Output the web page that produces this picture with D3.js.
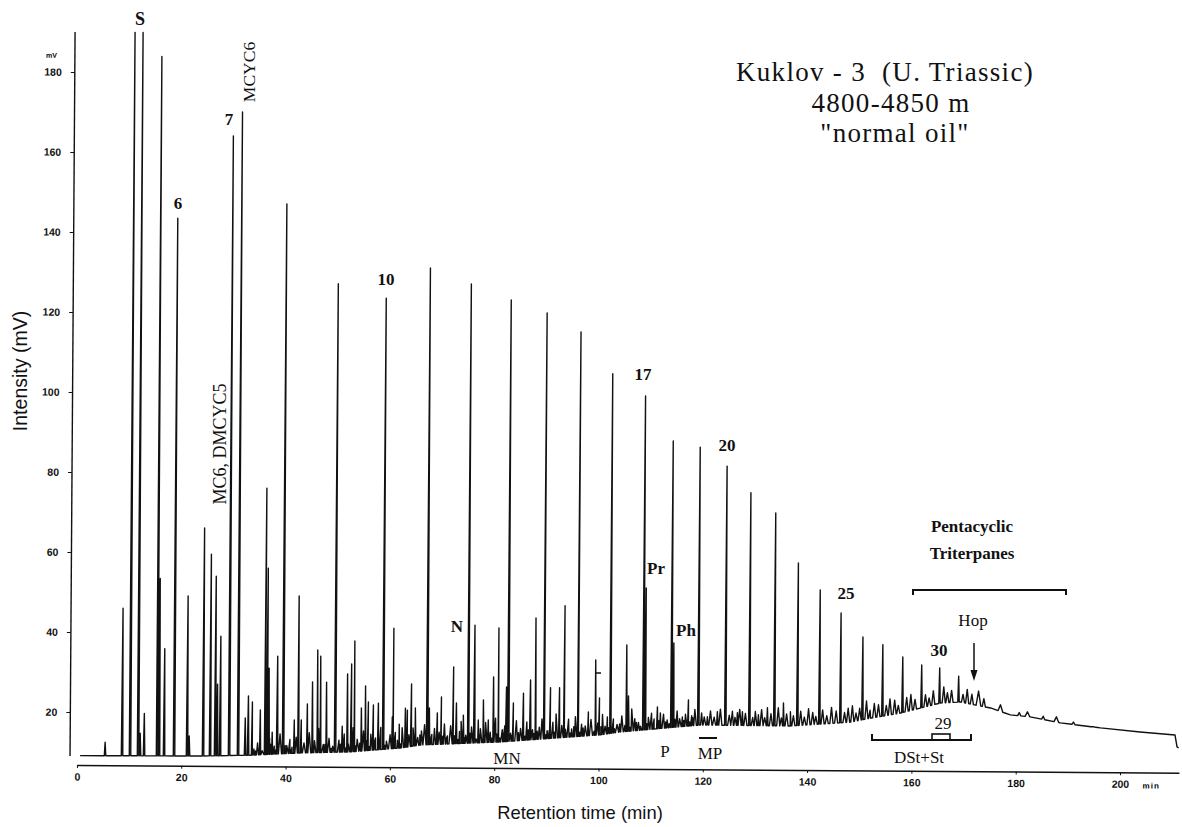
<!DOCTYPE html>
<html><head><meta charset="utf-8">
<script src="https://cdn.jsdelivr.net/npm/d3@7"></script>
<style>body{margin:0;background:#fff}svg{display:block}</style>
</head><body>
<script>
// ---- data (retention time in min, intensity in mV) ----
const xTicks = [0,20,40,60,80,100,120,140,160,180,200];
const yTicks = [20,40,60,80,100,120,140,160,180];

// baseline (hump) of the chromatogram
const baseT = [0.58,23.6,33.2,42.8,52.3,61.9,65.8,81.1,100.3,104.1,119.5,136.7,148.2,152.1,157.8,161.6,165.5,169.3,172.2,175.1,178.9,182.7,188.5,196.2,203.8,210.5,210.9,211.2];
const baseV = [9.1,9.2,9.5,10.15,10.5,11.55,12.35,13.25,15.2,15.95,17.85,17.75,18.8,19.85,21.15,22.45,23.75,24.05,23.3,22.6,20.9,20.45,19.0,17.8,16.85,16.15,13.2,12.9];

// resolved peaks (apex intensity)
const peakT = [5.37,8.63,10.16,11.70,12.08,12.85,15.34,15.72,16.68,18.60,21.09,21.48,24.16,25.50,26.46,26.85,27.42,29.15,30.87,
  32.21,32.79,33.56,35.09,36.05,36.43,36.72,37.39,38.35,39.50,41.61,42.38,42.95,44.10,45.06,46.02,46.60,47.75,49.47,
  50.81,51.77,52.54,53.12,54.46,55.23,55.80,56.76,57.72,58.68,60.40,60.59,61.74,62.90,63.28,64.05,64.81,67.11,67.50,
  69.03,69.80,72.10,72.68,74.02,74.98,76.13,76.89,77.85,78.81,79.77,80.73,82.26,82.65,83.60,85.52,86.86,87.82,89.55,
  90.70,92.43,93.38,96.07,97.99,99.33,100.10,101.63,102.21,105.27,105.66,108.53,108.92,111.22,111.79,113.90,114.29,
  116.01,117.16,119.08,120.81,122.72,124.26,126.56,127.52,128.86,130.59,132.31,133.65,135.38,136.72,138.06,142.28,
  146.31,150.53,154.36,158.20,161.84,165.29,168.94,172.77,176.99,182.17,187.73,194.82];
const peakV = [12.5,46,200,200,14.8,19.75,184,53.5,36,143.6,49.2,14.2,66.2,59.7,54.2,27.2,39.2,164.3,170.3,
  18.8,24.3,22.8,20.8,76.3,56.3,31.3,15.3,34.3,147.4,18.4,49.4,18.4,22.4,27.9,35.9,34.4,27.9,127.5,
  16.9,30,32.5,38.25,21.5,27,23,22.25,22.75,124,19.3,41.5,17.5,21.5,21,27.6,21.6,131.6,21.6,
  20.4,24.4,31.9,22.9,19.9,127.7,42.4,18.7,23.7,18.7,29.5,41.75,27,123.75,23,25.5,28.8,44.3,120.6,
  26.9,26.9,47.4,115.9,20.9,33.9,24.4,19.7,105.5,37.7,25,100,52,22.25,20.8,88.8,38.3,
  19.8,24.1,87.3,19.9,21.2,82.6,21,21.2,76,20.5,22.3,71,23.5,21.3,58.5,51.8,
  46.1,40.1,38.2,35.2,33.2,32.5,30.5,26.8,23.4,21.7,20.5,18.1];

// small unresolved bumps (height above baseline)
const noiseT = [33.9,34.6,35.5,36.9,37.8,38.9,40.2,40.8,41.2,42.0,43.5,44.5,45.5,46.3,47.2,48.3,49.0,50.2,51.2,52.0,52.9,53.7,54.9,55.5,56.3,57.2,58.2,59.3,60.0,61.0,61.4,62.3,63.6,64.4,65.3,66.0,66.6,68.0,68.5,69.4,70.4,71.0,71.6,73.3,73.6,74.5,75.6,77.3,78.3,79.2,80.2,81.5,82.0,83.1,84.2,85.0,86.2,87.3,88.6,89.1,90.1,91.2,91.8,92.9,94.2,94.8,95.5,96.7,97.4,98.5,99.8,100.7,101.2,102.8,103.5,104.4,106.3,106.9,107.6,109.5,110.1,110.6,112.4,113.1,115.0,115.5,116.6,117.8,118.4,119.7,120.2,121.4,122.1,123.3,125.0,125.6,126.1,127.0,128.1,129.5,130.0,131.2,131.8,133.0,134.4,135.0,136.0,137.3,138.7,139.4,140.2,141.0,141.6,142.9,143.7,144.6,145.5,147.1,147.8,148.6,149.3,150.0,151.3,152.0,152.8,153.6,155.1,155.8,156.7,157.4,159.0,159.8,160.6,162.6,163.3,164.1,166.1,166.8,167.6,169.8,170.6,171.5,173.8,180.6,185.2,191.0];
const noiseV = [1.5,3,1,4,2,5,2,3.5,1.5,4,2.5,5,3,6,2,3.5,1.5,3,4.5,2,6,3,5,2.5,4,3,5.5,2,3.5,4,2,5,3,4.5,2,3.5,5,2.5,4,3,5,2,4.5,3,5.5,2,4,3.5,5,2.5,6,3,4,2,5,3,4.5,2.5,3,5,2,4,6,3,4.5,2,5,3,2.5,4,3,5,2,3.5,2,4,5.5,3,2,3,4,2.5,3.5,2,4,2,3,2.5,4,3,2,3.5,2,4,2.5,3.5,2,4,3,2,3.5,4,2,3,4.5,2,3,2.5,3.5,2,4,3,2,3.5,2,4,3,2.5,3.5,4,2,3,4.5,2,3.5,3,2.5,4,3.5,2,3.5,4,2.5,3,2,3.5,4,2.5,3,2,3.5,2.5,2,0.8,0.8,0.6];

// finer wiggles of the noisy band
const fineT = [34.2,35.0,36.3,37.1,38.0,39.9,41.0,43.0,44.0,45.2,47.5,48.7,50.5,51.5,53.3,54.2,56.0,57.0,58.0,59.0,60.8,62.0,63.0,64.6,65.7,67.8,68.9,70.0,70.8,72.3,73.0,74.2,75.3,76.5,77.0,78.0,79.5,80.5,81.0,81.8,83.4,84.6,85.8,86.5,87.6,88.2,89.8,90.5,91.5,92.5,93.6,94.5,95.2,96.3,97.0,98.0,99.1,100.4,101.9,103.0,104.0,105.0,106.0,107.2,108.0,109.2,110.4,111.5,112.8,113.5,114.6,116.3,117.4,118.0];
const fineV = [1,2,1.5,2.5,1,2,1,2,1,1.5,2,1,2,1,1.5,2,1,2,1.5,1,2,1,2,1.5,2.5,1.5,1,2,1.5,2,1,1.5,2.5,1,2,1.5,1,2,1,2,1.5,2,1,2.5,1.5,2,1,2,1.5,1,2,1,2.5,1,2,1.5,1,2,1.5,1,2,1.5,1,2,1,1.5,1,2,1.5,1,2,1.5,1,2];

// ---- drawing ----
const W = 1182, H = 827;
const serif = "'Liberation Serif','Times New Roman',serif";
const sans = "'Liberation Sans',Arial,sans-serif";
const svg = d3.select("body").append("svg").attr("width", W).attr("height", H);
svg.append("rect").attr("width", W).attr("height", H).attr("fill", "#fff");

// the scanned figure is turned slightly; reproduce that tilt on the plot
const plot = svg.append("g").attr("transform", "rotate(0.4,80,760)");

const x = d3.scaleLinear().domain([0, 211.3]).range([77, 1179]);
const y = d3.scaleLinear().domain([0, 190]).range([792, 32]).clamp(true);
const base = d3.scaleLinear().domain(baseT).range(baseV).clamp(true);

let pts = baseT.map((t, i) => [t, baseV[i]]);
peakT.forEach((t, i) => {
  const w = t > 170 ? 0.45 : 0.14;
  pts.push([t - w, base(t - w)], [t, peakV[i]], [t + w, base(t + w)]);
});
const bump = (T, V, w) => T.forEach((t, i) => {
  pts.push([t - w, base(t - w)], [t, base(t) + V[i]], [t + w, base(t + w)]);
});
bump(noiseT, noiseV, 0.3);
bump(fineT, fineV, 0.2);
pts.sort((a, b) => a[0] - b[0]);

plot.append("path").datum(pts)
  .attr("d", d3.line().x(d => x(d[0])).y(d => y(d[1])))
  .attr("fill", "none").attr("stroke", "#111").attr("stroke-width", 1.4)
  .attr("stroke-linejoin", "round");

// x axis
const xa = plot.append("g").attr("transform", "translate(0,765)")
  .call(d3.axisBottom(x).tickValues(xTicks).tickSize(3).tickSizeOuter(0).tickPadding(5));
xa.select(".domain").attr("stroke", "#111").attr("stroke-width", 1.6);
xa.selectAll(".tick line").attr("stroke", "#111");
xa.selectAll("text").attr("font-family", sans).attr("font-weight", "bold").attr("font-size", 10.5).attr("fill", "#111");
plot.append("text").attr("x", x(206)).attr("y", 781).attr("text-anchor", "middle")
  .attr("font-family", sans).attr("font-weight", "bold").attr("font-size", 8).attr("letter-spacing", 1).text("min");

// y axis
const ya = plot.append("g").attr("transform", "translate(70,0)")
  .call(d3.axisLeft(y).tickValues(yTicks).tickSize(4).tickSizeOuter(0).tickPadding(9));
ya.select(".domain").remove();
ya.selectAll(".tick line").attr("stroke", "#111");
ya.selectAll("text").attr("font-family", sans).attr("font-weight", "bold").attr("font-size", 10.5).attr("fill", "#111");
plot.append("line").attr("x1", 70).attr("x2", 70).attr("y1", y(190)).attr("y2", y(9))
  .attr("stroke", "#111").attr("stroke-width", 1.4);
plot.append("text").attr("x", 52).attr("y", 58).attr("text-anchor", "end")
  .attr("font-family", sans).attr("font-weight", "bold").attr("font-size", 7).text("mV");

// axis titles
svg.append("text").attr("x", 580).attr("y", 819).attr("text-anchor", "middle")
  .attr("font-family", sans).attr("font-size", 18.4).attr("fill", "#111").text("Retention time (min)");
svg.append("text").attr("transform", "translate(20,371) rotate(-90)").attr("text-anchor", "middle")
  .attr("dominant-baseline", "central")
  .attr("font-family", sans).attr("font-size", 19.5).attr("fill", "#111").text("Intensity (mV)");

// title
const title = ["Kuklov - 3  (U. Triassic)", "4800-4850 m", "\"normal oil\""];
const titleX = [885, 891, 895], titleY = [81, 112, 142];
title.forEach((s, i) => svg.append("text").attr("x", titleX[i]).attr("y", titleY[i])
  .attr("text-anchor", "middle").attr("font-family", serif).attr("font-size", 27)
  .attr("letter-spacing", 1.3).style("white-space", "pre").attr("fill", "#111").text(s));

// peak annotations
const notes = [
  ["S", 140, 25, "bold"], ["6", 178, 209, "bold"], ["7", 229, 125, "bold"],
  ["10", 386, 285, "bold"], ["17", 643, 380, "bold"], ["20", 727, 451, "bold"],
  ["25", 846, 599, "bold"], ["30", 939, 656, "bold"], ["29", 943, 729, "normal"],
  ["N", 457, 632, "bold"], ["MN", 507, 764, "normal"], ["P", 665, 757, "normal"],
  ["MP", 710, 759, "normal"], ["Pr", 656, 574, "bold"], ["Ph", 686, 636, "bold"],
  ["Hop", 973, 626, "normal"], ["Pentacyclic", 972, 532, "bold"], ["Triterpanes", 972, 559, "bold"],
  ["DSt+St", 919, 763, "normal"]
];
notes.forEach(n => svg.append("text").attr("x", n[1]).attr("y", n[2]).attr("text-anchor", "middle")
  .attr("font-family", serif).attr("font-size", n[0] === "S" ? 18 : 17).attr("font-weight", n[3])
  .attr("fill", "#111").text(n[0]));

svg.append("text").attr("transform", "translate(249,72) rotate(-90)").attr("text-anchor", "middle")
  .attr("dominant-baseline", "central").attr("font-family", serif).attr("font-size", 17.5)
  .attr("fill", "#111").text("MCYC6");
svg.append("text").attr("transform", "translate(220,444) rotate(-90)").attr("text-anchor", "middle")
  .attr("dominant-baseline", "central").attr("font-family", serif).attr("font-size", 18)
  .attr("fill", "#111").text("MC6, DMCYC5");

// brackets, bars, arrow
const ink = g => g.attr("fill", "none").attr("stroke", "#111").attr("stroke-width", 2);
svg.append("path").attr("d", "M913,595V590H1066V595").call(ink);
svg.append("path").attr("d", "M872,734V740H971V734").call(ink);
svg.append("rect").attr("x", 932).attr("y", 734).attr("width", 18).attr("height", 6).call(ink).attr("stroke-width", 1.6);
svg.append("line").attr("x1", 699).attr("x2", 717).attr("y1", 738).attr("y2", 738).call(ink);
svg.append("line").attr("x1", 596).attr("x2", 601).attr("y1", 673).attr("y2", 673).call(ink).attr("stroke-width", 1.5);
svg.append("line").attr("x1", 974).attr("x2", 974).attr("y1", 643).attr("y2", 672).call(ink).attr("stroke-width", 1.5);
svg.append("path").attr("d", "M970.5,670L977.5,670L974,681Z").attr("fill", "#111");
</script>
</body></html>
